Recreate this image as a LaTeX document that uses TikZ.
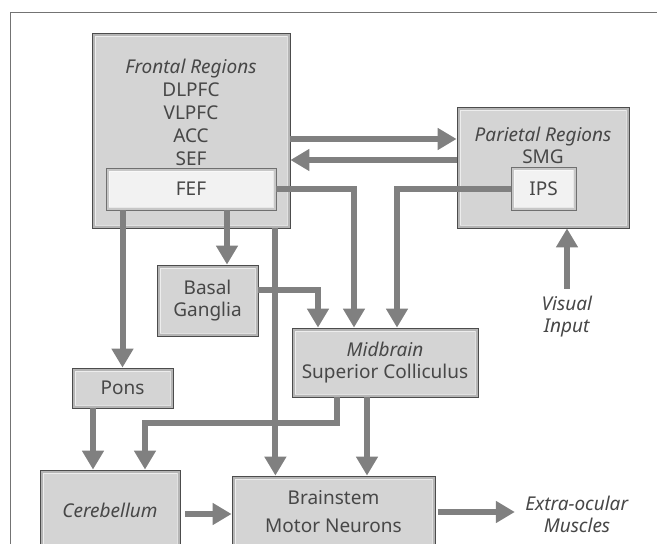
\documentclass[tikz,border=0pt]{standalone}
\usepackage{fontspec}
\setmainfont{Noto Sans}
\usetikzlibrary{arrows.meta,
                positioning}
\definecolor{boxline}{gray}{0.30}
\definecolor{bandgray}{gray}{0.71}
\definecolor{boxgray}{gray}{0.83}
\definecolor{fefband}{gray}{0.78}
\definecolor{fefgray}{gray}{0.95}
\definecolor{arrowgray}{gray}{0.50}
\definecolor{txtgray}{gray}{0.28}
\definecolor{framegray}{gray}{0.45}
\tikzset{
        base/.style={font=\fontsize{19}{22}\selectfont, text=txtgray, align=center},
        region/.style={base, draw=boxline, line width=0.8pt, fill=bandgray,
                       path picture={
                         \fill[#1] ([shift={(3pt,-3pt)}]path picture bounding box.north west)
                           rectangle ([shift={(-3pt,3pt)}]path picture bounding box.south east);
                         \draw[white, opacity=0.6, line width=0.7pt]
                           ([shift={(3pt,-3pt)}]path picture bounding box.north west)
                           rectangle ([shift={(-3pt,3pt)}]path picture bounding box.south east);
                       }},
        region/.default=boxgray,
        subregion/.style={region=fefgray, fill=fefband, draw=boxline!80},
        myarrow/.style={-{Triangle[length=19pt, width=21pt]}, line width=6pt, draw=arrowgray},
 }
\begin{document}
\begin{tikzpicture}[x=1pt, y=-1pt]
    \useasboundingbox (0,0) rectangle (657,544);
    \clip (0,0) rectangle (657,544);
    \draw[framegray, line width=1pt] (10,560) -- (10,12) -- (670,12);

    % boxes
    \node[region, minimum width=198pt, minimum height=195pt] (frontal) at (191,130.5) {};
    \node[base, font=\fontsize{19}{23}\selectfont, below=23pt of frontal.north] (frontaltext)
        {\textit{Frontal Regions}\\DLPFC\\VLPFC\\ACC\\SEF};
    \node[subregion, minimum width=170pt, minimum height=42pt] (fef) at (191,189) {FEF};

    \node[region, minimum width=172pt, minimum height=121pt] (parietal) at (543,167.5) {};
    \node[base, below=17pt of parietal.north] (parietaltext) {\textit{Parietal Regions}\\SMG};
    \node[subregion, minimum width=65pt, minimum height=43pt] (ips) at (543.5,188.5) {IPS};

    \node[region, minimum width=101pt, minimum height=71pt] (basal) at (207.5,300.5) {Basal\\Ganglia};
    \node[region, minimum width=186pt, minimum height=69pt] (midbrain) at (385,362.5)
        {\textit{Midbrain}\\Superior Colliculus};
    \node[region, minimum width=101pt, minimum height=40pt] (pons) at (122.5,388) {Pons};
    \node[region, minimum width=140pt, minimum height=80pt] (cerebellum) at (110,510) {\textit{Cerebellum}};
    \node[region, minimum width=203pt, minimum height=72pt] (brainstem) at (333.5,512)
        {Brainstem\\[6pt]Motor Neurons};

    \node[base] (visual) at (567,317) {\textit{Visual}\\\textit{Input}};
    \node[base] (extra) at (577,514) {\textit{Extra-ocular}\\\textit{Muscles}};

    % connections
    \draw[myarrow] ([yshift=-8.5pt]frontal.east) -- ([yshift=-8.5pt]frontal.east -| parietal.west);
    \draw[myarrow] ([yshift=-29.5pt]frontal.east -| parietal.west) -- ([yshift=-29.5pt]frontal.east);
    \draw[myarrow] (fef.east) -| ([xshift=-31pt]midbrain.north);
    \draw[myarrow] (ips.west) -| ([xshift=12pt]midbrain.north);
    \draw[myarrow, shorten <=4pt] (visual.north) -- (visual.north |- parietal.south);
    \draw[myarrow] ([xshift=36pt]fef.south) -- ([xshift=36pt]fef.south |- basal.north);
    \draw[myarrow] (fef.south -| pons.north) -- (pons.north);
    \draw[myarrow] ([yshift=10.5pt]basal.east) -| ([xshift=-67pt]midbrain.north);
    \draw[myarrow] ([xshift=-29.5pt]pons.south) -- ([xshift=-29.5pt]pons.south |- cerebellum.north);
    \draw[myarrow] ([xshift=-48pt]midbrain.south) -- ++(0,26) -| ([xshift=35pt]cerebellum.north);
    \draw[myarrow] ([xshift=-18pt]midbrain.south) -- ([xshift=-18pt]midbrain.south |- brainstem.north);
    \draw[myarrow] ([xshift=-15pt]frontal.south east) -- ([xshift=-15pt]frontal.south east |- brainstem.north);
    \draw[myarrow, shorten <=5pt] ([yshift=-4pt]cerebellum.east) -- ([yshift=-4pt]cerebellum.east -| brainstem.west);
    \draw[myarrow, shorten <=3pt, shorten >=7pt] (brainstem.east) -- (brainstem.east -| extra.west);
\end{tikzpicture}
\end{document}
